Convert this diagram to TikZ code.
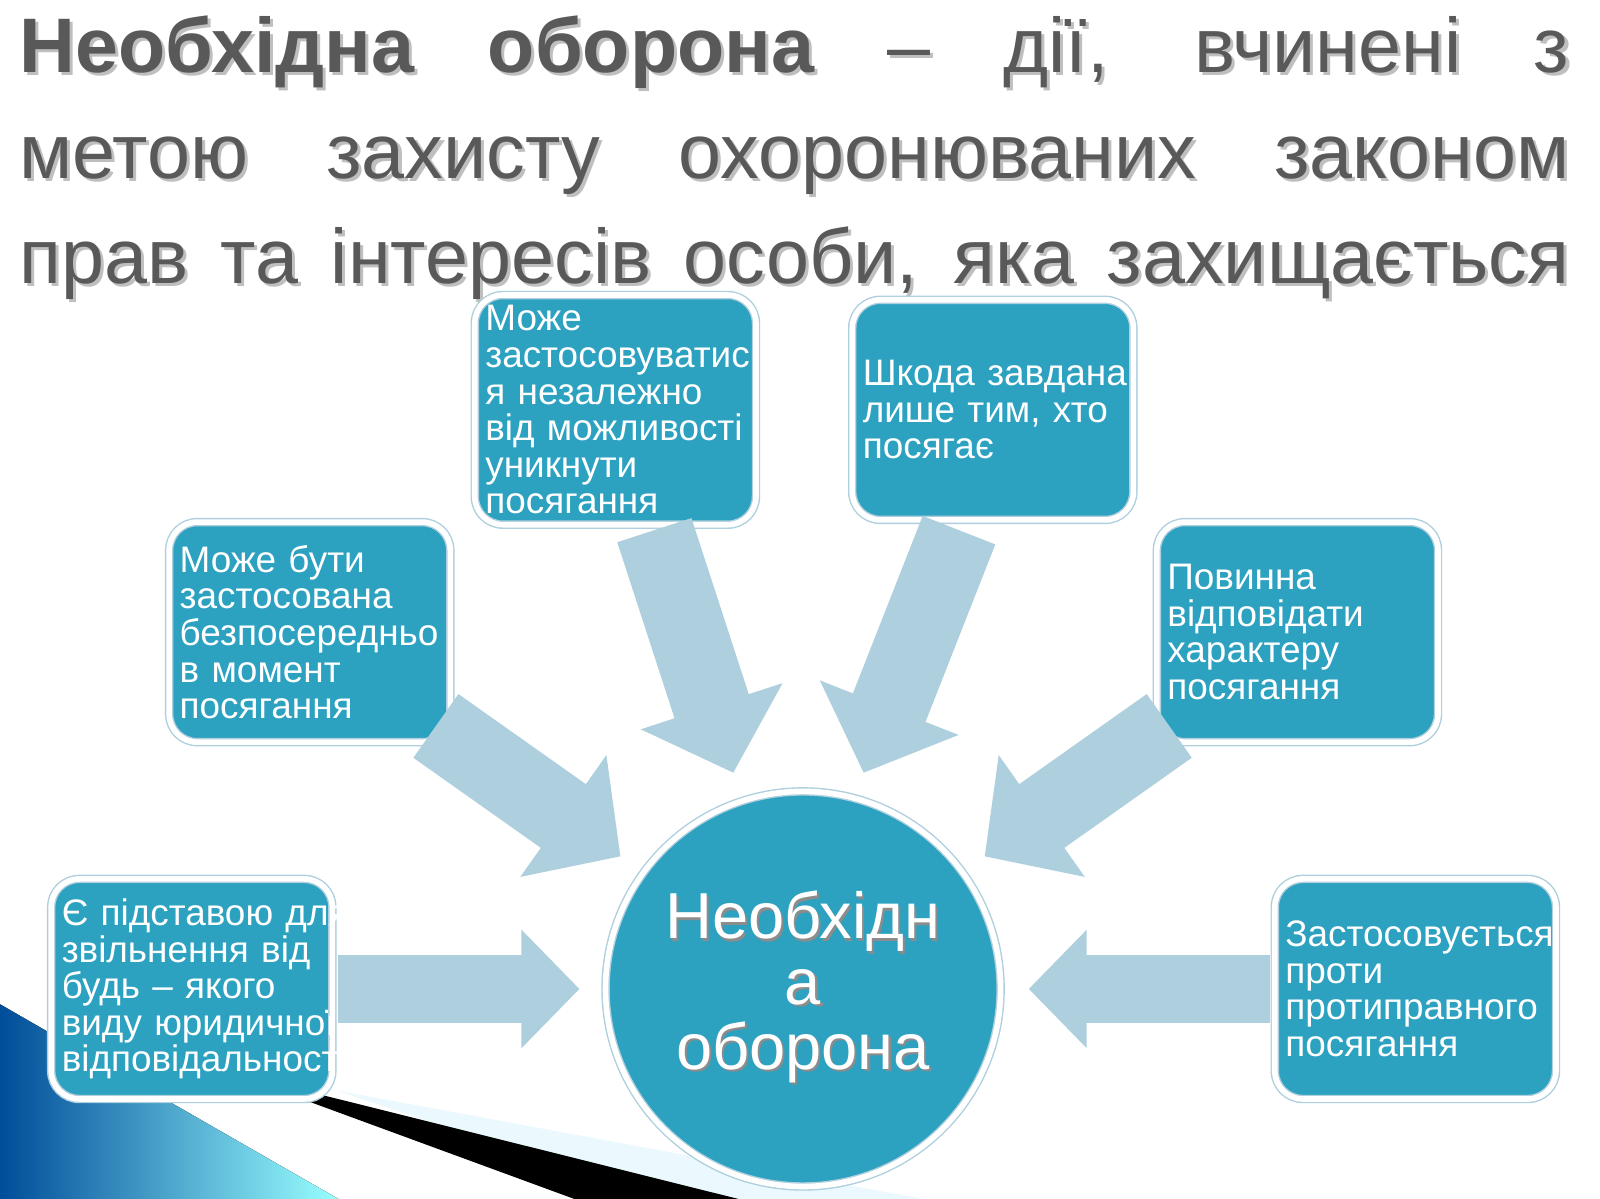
\documentclass[tikz,border=0pt]{standalone}
\usepackage{fontspec}
\setmainfont{Liberation Sans}
\usetikzlibrary{arrows.meta,positioning}
\definecolor{boxblue}{HTML}{2CA1C0}
\definecolor{arrowblue}{HTML}{AECFDD}
\definecolor{titlegray}{HTML}{595959}
\tikzset{
  infobox/.style={rectangle, rounded corners=8pt, fill=boxblue, draw=arrowblue,
    double=white, double distance=1.6pt, minimum width=2.77cm, minimum height=2.2cm,
    text width=2.6cm, inner sep=3pt, text=white, font=\fontsize{10.5}{10.4}\selectfont},
  blockarrow/.style={draw=arrowblue, line width=0.68cm,
    -{Triangle[length=0.58cm 0, width=1.15cm 0]}},
  widearrow/.style={draw=arrowblue, line width=0.78cm,
    -{Triangle[length=0.7cm 0, width=1.45cm 0]}}
}
\newcommand\jl[1]{\makebox[\linewidth][s]{#1}}
\newcommand\tl[1]{\makebox[15.5cm][s]{#1}}
\begin{document}
\begin{tikzpicture}[x=0.01026cm, y=-0.0102cm]
	\useasboundingbox[fill=white] (0,0) rectangle (1560,1176);
	% corner decoration
	\fill[left color=blue!50!cyan!60!black, right color=cyan!40] (0,985) -- (330,1176) -- (0,1176) -- cycle;
	\fill[cyan!8] (330,1070) -- (900,1176) -- (640,1176) -- cycle;
	\fill[black] (290,1068) -- (720,1176) -- (560,1176) -- (300,1080) -- cycle;
	
	% title
	\foreach \dx/\col in {3/black!25, 0/titlegray}
	\node[anchor=north west, text=\col, font=\fontsize{22}{30}\selectfont, align=left, inner sep=0pt]
		(title) at (18+\dx,15+\dx) {\tl{\textbf{Необхідна} \textbf{оборона} – дії, вчинені з}\\
		\tl{метою захисту охоронюваних законом}\\
		\tl{прав та інтересів особи, яка захищається}};
	
	% centre
	\node[circle, fill=boxblue, draw=arrowblue, double=white, double distance=1.6pt,
		minimum size=3.95cm] (centre) at (783,970) {};
	\foreach \dx/\col in {2/black!45, 0/white}
	\node[text=\col, align=center, font=\fontsize{18.5}{18.5}\selectfont] (ctext) at (783+\dx,968+\dx)
		{Необхідн\\а\\оборона};
	
	% boxes
	\node[infobox] (b1) at (600,402) {Може\\ застосовуватис\\ \jl{я незалежно}\\ \jl{від можливості}\\ уникнути\\ посягання};
	\node[infobox] (b2) at (968,402) {\jl{Шкода завдана}\\ \jl{лише тим, хто}\\ посягає};
	\node[infobox] (b3) at (302,620) {\jl{Може бути}\\ застосована\\ безпосередньо\\ \jl{в момент}\\ посягання};
	\node[infobox] (b4) at (1265,620) {Повинна\\ відповідати\\ характеру\\ посягання};
	\node[infobox] (b5) at (187,970) {\jl{Є підставою для}\\ \jl{звільнення від}\\ \jl{будь – якого}\\ \jl{виду юридичної}\\ відповідальності};
	\node[infobox] (b6) at (1380,970) {Застосовується\\ проти\\ протиправного\\ посягання};
	
	% arrows
	\coordinate (s1) at (638,520); \coordinate (e1) at (715,758);
	\coordinate (s2) at (935,520); \coordinate (e2) at (842,758);
	\coordinate (s3) at (425,712); \coordinate (e3) at (605,840);
	\coordinate (s4) at (1140,712); \coordinate (e4) at (960,840);
	\coordinate (s5) at (330,970); \coordinate (e5) at (565,970);
	\coordinate (s6) at (1238,970); \coordinate (e6) at (1003,970);
	\foreach \i in {1,2,3,4}
	\path[widearrow] (s\i) -- (e\i);
	\foreach \i in {5,6}
	\path[blockarrow] (s\i) -- (e\i);
\end{tikzpicture}
\end{document}
